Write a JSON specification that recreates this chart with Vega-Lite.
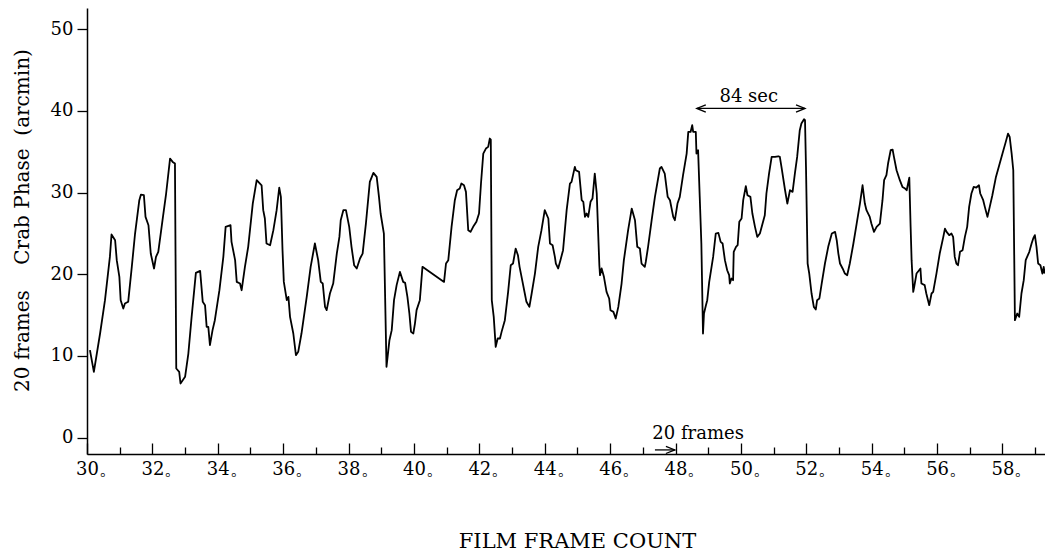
{
  "$schema": "https://vega.github.io/schema/vega-lite/v6.json",
  "width": 958,
  "height": 446,
  "autosize": "none",
  "padding": {"left": 87, "top": 8, "right": 0, "bottom": 99},
  "background": "white",
  "config": {"view": {"stroke": null}, "font": "DejaVu Serif"},
  "datasets": {
    "curve": [
      {"frame":30.09,"phase":10.71},{"frame":30.21,"phase":8.06},{"frame":30.40,"phase":12.75},{"frame":30.55,"phase":16.83},{"frame":30.70,"phase":22.13},{"frame":30.75,"phase":24.87},{"frame":30.86,"phase":24.17},{"frame":30.91,"phase":21.73},{"frame":30.99,"phase":19.69},{"frame":31.03,"phase":16.83},{"frame":31.11,"phase":15.81},{"frame":31.16,"phase":16.42},{"frame":31.26,"phase":16.63},{"frame":31.37,"phase":20.91},{"frame":31.47,"phase":24.99},{"frame":31.60,"phase":29.07},{"frame":31.65,"phase":29.76},{"frame":31.74,"phase":29.68},{"frame":31.79,"phase":27.03},{"frame":31.88,"phase":26.01},{"frame":31.95,"phase":22.54},{"frame":32.05,"phase":20.71},{"frame":32.11,"phase":22.13},{"frame":32.18,"phase":22.75},{"frame":32.31,"phase":26.62},{"frame":32.42,"phase":29.89},{"frame":32.54,"phase":34.17},{"frame":32.62,"phase":33.76},{"frame":32.69,"phase":33.56},{"frame":32.73,"phase":8.47},{"frame":32.82,"phase":8.06},{"frame":32.86,"phase":6.63},{"frame":33.00,"phase":7.45},{"frame":33.10,"phase":10.30},{"frame":33.20,"phase":14.79},{"frame":33.33,"phase":20.18},{"frame":33.46,"phase":20.42},{"frame":33.54,"phase":16.63},{"frame":33.61,"phase":16.22},{"frame":33.66,"phase":13.57},{"frame":33.71,"phase":13.57},{"frame":33.76,"phase":11.32},{"frame":33.84,"phase":13.16},{"frame":33.91,"phase":14.38},{"frame":34.05,"phase":18.05},{"frame":34.17,"phase":22.13},{"frame":34.24,"phase":25.81},{"frame":34.39,"phase":26.01},{"frame":34.42,"phase":23.97},{"frame":34.53,"phase":21.73},{"frame":34.58,"phase":19.07},{"frame":34.68,"phase":18.87},{"frame":34.73,"phase":18.05},{"frame":34.83,"phase":20.91},{"frame":34.93,"phase":23.36},{"frame":35.07,"phase":28.66},{"frame":35.19,"phase":31.52},{"frame":35.34,"phase":30.90},{"frame":35.39,"phase":27.85},{"frame":35.44,"phase":26.83},{"frame":35.49,"phase":23.77},{"frame":35.60,"phase":23.56},{"frame":35.70,"phase":25.40},{"frame":35.80,"phase":27.85},{"frame":35.88,"phase":30.62},{"frame":35.93,"phase":29.48},{"frame":35.98,"phase":22.95},{"frame":36.02,"phase":19.07},{"frame":36.11,"phase":16.83},{"frame":36.16,"phase":17.24},{"frame":36.21,"phase":14.79},{"frame":36.31,"phase":12.75},{"frame":36.39,"phase":10.10},{"frame":36.46,"phase":10.51},{"frame":36.56,"phase":12.75},{"frame":36.72,"phase":17.24},{"frame":36.84,"phase":20.91},{"frame":36.97,"phase":23.77},{"frame":37.07,"phase":21.73},{"frame":37.15,"phase":19.07},{"frame":37.21,"phase":18.87},{"frame":37.28,"phase":16.01},{"frame":37.33,"phase":15.61},{"frame":37.43,"phase":17.65},{"frame":37.53,"phase":18.87},{"frame":37.64,"phase":22.54},{"frame":37.72,"phase":24.58},{"frame":37.76,"phase":26.62},{"frame":37.84,"phase":27.85},{"frame":37.92,"phase":27.85},{"frame":38.02,"phase":25.81},{"frame":38.09,"phase":23.36},{"frame":38.17,"phase":21.11},{"frame":38.25,"phase":20.71},{"frame":38.35,"phase":21.93},{"frame":38.43,"phase":22.54},{"frame":38.53,"phase":26.21},{"frame":38.65,"phase":31.31},{"frame":38.76,"phase":32.42},{"frame":38.86,"phase":31.92},{"frame":38.93,"phase":29.48},{"frame":38.98,"phase":27.44},{"frame":39.08,"phase":24.99},{"frame":39.16,"phase":8.67},{"frame":39.25,"phase":11.93},{"frame":39.32,"phase":13.16},{"frame":39.39,"phase":16.83},{"frame":39.47,"phase":18.67},{"frame":39.57,"phase":20.30},
      {"frame":39.67,"phase":19.07},{"frame":39.73,"phase":18.95},{"frame":39.80,"phase":17.24},{"frame":39.86,"phase":15.20},{"frame":39.91,"phase":12.95},{"frame":39.98,"phase":12.75},{"frame":40.03,"phase":13.97},{"frame":40.08,"phase":15.61},{"frame":40.18,"phase":16.83},{"frame":40.26,"phase":20.91},{"frame":40.92,"phase":19.07},{"frame":40.98,"phase":21.32},{"frame":41.05,"phase":21.73},{"frame":41.15,"phase":25.81},{"frame":41.25,"phase":29.07},{"frame":41.32,"phase":30.29},{"frame":41.40,"phase":30.50},{"frame":41.45,"phase":31.11},{"frame":41.53,"phase":30.90},{"frame":41.59,"phase":30.09},{"frame":41.66,"phase":25.40},{"frame":41.73,"phase":25.19},{"frame":41.81,"phase":25.81},{"frame":41.91,"phase":26.42},{"frame":41.99,"phase":27.44},{"frame":42.05,"phase":31.11},{"frame":42.12,"phase":34.78},{"frame":42.20,"phase":35.39},{"frame":42.27,"phase":35.60},{"frame":42.32,"phase":36.62},{"frame":42.35,"phase":36.50},{"frame":42.38,"phase":16.83},{"frame":42.44,"phase":14.79},{"frame":42.50,"phase":11.12},{"frame":42.56,"phase":12.14},{"frame":42.63,"phase":12.14},{"frame":42.68,"phase":12.95},{"frame":42.78,"phase":14.38},{"frame":42.88,"phase":17.85},{"frame":42.96,"phase":21.11},{"frame":43.03,"phase":21.32},{"frame":43.11,"phase":23.15},{"frame":43.18,"phase":22.34},{"frame":43.23,"phase":20.91},{"frame":43.31,"phase":19.28},{"frame":43.39,"phase":17.65},{"frame":43.44,"phase":16.63},{"frame":43.53,"phase":16.01},{"frame":43.60,"phase":17.65},{"frame":43.70,"phase":20.09},{"frame":43.80,"phase":23.36},{"frame":43.90,"phase":25.40},{"frame":44.00,"phase":27.85},{"frame":44.11,"phase":26.83},{"frame":44.16,"phase":23.77},{"frame":44.24,"phase":23.56},{"frame":44.31,"phase":22.13},{"frame":44.34,"phase":21.32},{"frame":44.41,"phase":20.71},{"frame":44.48,"phase":21.73},{"frame":44.56,"phase":22.95},{"frame":44.67,"phase":27.85},{"frame":44.77,"phase":31.11},{"frame":44.82,"phase":31.31},{"frame":44.92,"phase":33.15},{"frame":44.95,"phase":32.74},{"frame":45.05,"phase":32.54},{"frame":45.13,"phase":29.07},{"frame":45.18,"phase":28.87},{"frame":45.23,"phase":27.03},{"frame":45.28,"phase":27.44},{"frame":45.33,"phase":27.03},{"frame":45.40,"phase":28.87},{"frame":45.46,"phase":29.27},{"frame":45.53,"phase":32.33},{"frame":45.59,"phase":29.89},{"frame":45.67,"phase":21.11},{"frame":45.69,"phase":19.89},{"frame":45.74,"phase":20.71},{"frame":45.81,"phase":19.69},{"frame":45.89,"phase":17.85},{"frame":45.97,"phase":17.04},{"frame":46.01,"phase":15.61},{"frame":46.10,"phase":15.40},{"frame":46.17,"phase":14.59},{"frame":46.25,"phase":16.01},{"frame":46.35,"phase":18.87},{"frame":46.42,"phase":21.73},{"frame":46.55,"phase":25.40},{"frame":46.66,"phase":28.05},{"frame":46.76,"phase":26.62},{"frame":46.83,"phase":23.36},{"frame":46.91,"phase":23.15},{"frame":46.96,"phase":21.32},{"frame":47.06,"phase":20.91},{"frame":47.09,"phase":21.52},{"frame":47.16,"phase":23.36},{"frame":47.27,"phase":26.62},{"frame":47.37,"phase":29.48},{"frame":47.52,"phase":32.95},{"frame":47.57,"phase":33.15},{"frame":47.67,"phase":32.33},{"frame":47.76,"phase":29.48},{"frame":47.83,"phase":29.07},{"frame":47.93,"phase":27.03},{"frame":47.98,"phase":26.62},{"frame":48.06,"phase":28.66},{"frame":48.13,"phase":29.48},{"frame":48.23,"phase":32.13},{"frame":48.34,"phase":34.78},{"frame":48.39,"phase":37.43},{"frame":48.46,"phase":37.43},{"frame":48.51,"phase":38.25},{"frame":48.54,"phase":37.43},{"frame":48.62,"phase":37.43},{"frame":48.64,"phase":34.78},{"frame":48.69,"phase":35.19},{"frame":48.74,"phase":29.48},{"frame":48.79,"phase":23.77},{"frame":48.84,"phase":12.75},{"frame":48.87,"phase":15.20},{"frame":48.93,"phase":16.22},{"frame":48.97,"phase":16.83},{"frame":49.03,"phase":19.07},{"frame":49.15,"phase":22.13},{"frame":49.23,"phase":24.99},{"frame":49.31,"phase":25.07},{"frame":49.38,"phase":23.97},{"frame":49.44,"phase":23.77},{"frame":49.51,"phase":21.73},{"frame":49.58,"phase":20.50},{"frame":49.64,"phase":19.89},{"frame":49.66,"phase":18.87},
      {"frame":49.71,"phase":19.48},{"frame":49.76,"phase":19.28},{"frame":49.78,"phase":22.75},{"frame":49.85,"phase":23.36},{"frame":49.90,"phase":23.56},{"frame":49.95,"phase":26.42},{"frame":50.02,"phase":26.83},{"frame":50.07,"phase":29.07},{"frame":50.15,"phase":30.78},{"frame":50.20,"phase":29.68},{"frame":50.29,"phase":29.48},{"frame":50.35,"phase":27.44},{"frame":50.43,"phase":25.81},{"frame":50.50,"phase":24.58},{"frame":50.58,"phase":24.99},{"frame":50.73,"phase":27.23},{"frame":50.78,"phase":29.89},{"frame":50.86,"phase":32.33},{"frame":50.94,"phase":34.37},{"frame":51.04,"phase":34.37},{"frame":51.14,"phase":34.45},{"frame":51.19,"phase":34.37},{"frame":51.24,"phase":33.15},{"frame":51.35,"phase":30.29},{"frame":51.42,"phase":28.66},{"frame":51.50,"phase":30.29},{"frame":51.58,"phase":30.09},{"frame":51.65,"phase":32.33},{"frame":51.72,"phase":34.37},{"frame":51.80,"phase":37.64},{"frame":51.85,"phase":38.45},{"frame":51.93,"phase":38.98},{"frame":51.96,"phase":38.86},{"frame":51.99,"phase":33.15},{"frame":52.04,"phase":21.32},{"frame":52.09,"phase":20.09},{"frame":52.16,"phase":17.65},{"frame":52.23,"phase":16.01},{"frame":52.29,"phase":15.69},{"frame":52.33,"phase":16.83},{"frame":52.40,"phase":17.04},{"frame":52.47,"phase":18.87},{"frame":52.57,"phase":21.32},{"frame":52.67,"phase":23.36},{"frame":52.78,"phase":24.99},{"frame":52.88,"phase":25.19},{"frame":52.93,"phase":24.17},{"frame":52.98,"phase":22.54},{"frame":53.03,"phase":21.32},{"frame":53.11,"phase":20.71},{"frame":53.18,"phase":20.09},{"frame":53.25,"phase":19.89},{"frame":53.33,"phase":21.32},{"frame":53.44,"phase":23.77},{"frame":53.54,"phase":26.21},{"frame":53.64,"phase":28.66},{"frame":53.72,"phase":30.90},{"frame":53.79,"phase":28.66},{"frame":53.84,"phase":27.85},{"frame":53.94,"phase":27.03},{"frame":53.99,"phase":26.21},{"frame":54.07,"phase":25.19},{"frame":54.15,"phase":25.81},{"frame":54.25,"phase":26.21},{"frame":54.33,"phase":29.07},{"frame":54.38,"phase":31.52},{"frame":54.45,"phase":32.13},{"frame":54.50,"phase":33.56},{"frame":54.58,"phase":35.19},{"frame":54.64,"phase":35.27},{"frame":54.68,"phase":34.37},{"frame":54.76,"phase":32.74},{"frame":54.86,"phase":31.52},{"frame":54.94,"phase":30.70},{"frame":55.02,"phase":30.50},{"frame":55.07,"phase":30.29},{"frame":55.15,"phase":31.84},{"frame":55.19,"phase":25.81},{"frame":55.22,"phase":21.73},{"frame":55.27,"phase":17.85},{"frame":55.30,"phase":18.46},{"frame":55.37,"phase":20.09},{"frame":55.45,"phase":20.50},{"frame":55.49,"phase":20.71},{"frame":55.52,"phase":18.87},{"frame":55.62,"phase":18.67},{"frame":55.67,"phase":17.65},{"frame":55.76,"phase":16.22},{"frame":55.83,"phase":17.65},{"frame":55.88,"phase":17.85},{"frame":55.98,"phase":20.09},{"frame":56.08,"phase":22.54},{"frame":56.19,"phase":24.58},{"frame":56.24,"phase":25.60},{"frame":56.29,"phase":25.19},{"frame":56.37,"phase":24.79},{"frame":56.44,"phase":24.99},{"frame":56.49,"phase":24.58},{"frame":56.54,"phase":22.13},{"frame":56.59,"phase":21.32},{"frame":56.64,"phase":21.11},{"frame":56.70,"phase":22.75},{"frame":56.78,"phase":22.95},{"frame":56.85,"phase":24.58},{"frame":56.92,"phase":25.81},{"frame":56.98,"phase":28.25},{"frame":57.05,"phase":29.89},{"frame":57.12,"phase":30.70},{"frame":57.20,"phase":30.62},{"frame":57.28,"phase":30.90},{"frame":57.32,"phase":29.89},{"frame":57.41,"phase":29.07},{"frame":57.46,"phase":28.25},{"frame":57.54,"phase":27.03},{"frame":57.61,"phase":28.25},{"frame":57.69,"phase":29.68},{"frame":57.80,"phase":31.92},{"frame":57.90,"phase":33.35},{"frame":58.00,"phase":34.78},{"frame":58.10,"phase":36.21},{"frame":58.17,"phase":37.23},{"frame":58.22,"phase":36.82},{"frame":58.28,"phase":34.78},{"frame":58.33,"phase":32.74},{"frame":58.38,"phase":14.38},{"frame":58.45,"phase":15.20},{"frame":58.51,"phase":14.79},{"frame":58.58,"phase":17.65},{"frame":58.65,"phase":19.28},{"frame":58.71,"phase":21.73},{"frame":58.82,"phase":22.75},{"frame":58.89,"phase":23.77},{"frame":58.94,"phase":24.38},{"frame":58.99,"phase":24.79},{"frame":59.04,"phase":23.36},{"frame":59.09,"phase":21.32},{"frame":59.16,"phase":21.11},{"frame":59.22,"phase":20.09},{"frame":59.26,"phase":20.91},{"frame":59.29,"phase":20.09}
    ],
    "arrows": [
      {"id":"a","frame":48.65,"phase":40.3},{"id":"a","frame":51.96,"phase":40.3},
      {"id":"b","frame":47.37,"phase":-1.5},{"id":"b","frame":47.98,"phase":-1.5}
    ],
    "heads": [
      {"frame":48.65,"phase":40.3,"dir":"left"},
      {"frame":51.96,"phase":40.3,"dir":"right"},
      {"frame":47.98,"phase":-1.5,"dir":"right"}
    ],
    "notes": [
      {"frame":50.24,"phase":41.7,"label":"84 sec"},
      {"frame":48.69,"phase":0.5,"label":"20 frames"}
    ]
  },
  "resolve": {"axis": {"x": "independent"}},
  "layer": [
    {
      "data": {"name": "curve"},
      "mark": {"type": "line", "color": "black", "strokeWidth": 1.8, "strokeJoin": "round"},
      "encoding": {
        "x": {"field": "frame", "type": "quantitative",
          "scale": {"domain": [30, 59.3], "nice": false, "zero": false},
          "axis": {
            "orient": "bottom",
            "title": "FILM FRAME COUNT",
            "values": [30,32,34,36,38,40,42,44,46,48,50,52,54,56,58],
            "labelExpr": "datum.value + '。'",
            "tickSize": -11,
            "labelPadding": 17,
            "labelFont": "DejaVu Serif", "labelFontSize": 18, "labelColor": "black",
            "labelFlush": false, "labelOverlap": false, "labelBound": false, "labelOffset": 9,
            "domainColor": "black", "domainWidth": 1.5, "tickColor": "black", "tickWidth": 1.3,
            "grid": false,
            "titleFont": "DejaVu Serif", "titleFontSize": 21, "titleFontWeight": "normal", "titleColor": "black",
            "titleX": 490, "titleY": 93, "titleBaseline": "alphabetic"
          }
        },
        "y": {"field": "phase", "type": "quantitative",
          "scale": {"domain": [-2, 52.6], "nice": false, "zero": false},
          "axis": {
            "title": "20 frames\u00a0\u00a0\u00a0\u00a0Crab Phase\u00a0\u00a0(arcmin)",
            "values": [0,10,20,30,40,50],
            "tickSize": 10, "labelPadding": 4,
            "labelFont": "DejaVu Serif", "labelFontSize": 18, "labelColor": "black",
            "domainColor": "black", "domainWidth": 1.5, "tickColor": "black", "tickWidth": 1.3,
            "grid": false,
            "titleFont": "DejaVu Serif", "titleFontSize": 20, "titleFontWeight": "normal", "titleColor": "black",
            "titleX": -55, "titleY": 212
          }
        }
      }
    },
    {
      "data": {"name": "arrows"},
      "mark": {"type": "line", "color": "black", "strokeWidth": 1.3},
      "encoding": {
        "x": {"field": "frame", "type": "quantitative",
          "axis": {
            "orient": "bottom",
            "title": null,
            "values": [31,33,35,37,39,41,43,45,47,49,51,53,55,57,59],
            "tickSize": -7, "labels": false, "domain": false, "grid": false,
            "tickColor": "black", "tickWidth": 1.3
          }
        },
        "y": {"field": "phase", "type": "quantitative"},
        "detail": {"field": "id"}
      }
    },
    {
      "data": {"name": "heads"},
      "mark": {"type": "point", "filled": false, "stroke": "black", "strokeWidth": 1.3, "opacity": 1, "size": 324},
      "encoding": {
        "x": {"field": "frame", "type": "quantitative", "axis": null},
        "y": {"field": "phase", "type": "quantitative"},
        "shape": {"field": "dir", "type": "nominal", "legend": null,
          "scale": {"domain": ["left", "right"], "range": ["M 1 -0.4 L 0 0 L 1 0.4", "M -1 -0.4 L 0 0 L -1 0.4"]}}
      }
    },
    {
      "data": {"name": "notes"},
      "mark": {"type": "text", "font": "DejaVu Serif", "fontSize": 18, "color": "black", "align": "center", "baseline": "middle"},
      "encoding": {
        "x": {"field": "frame", "type": "quantitative", "axis": null},
        "y": {"field": "phase", "type": "quantitative"},
        "text": {"field": "label"}
      }
    }
  ]
}
